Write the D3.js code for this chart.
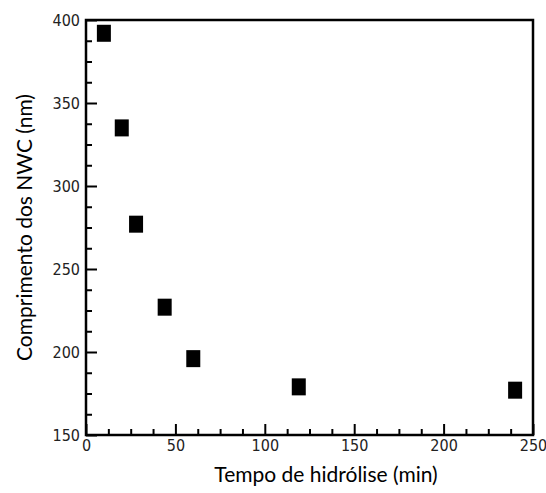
<!DOCTYPE html>
<html>
<head>
<meta charset="utf-8">
<script src="https://cdn.jsdelivr.net/npm/d3@7"></script>
<style>
  body { margin: 0; background: #fff; }
  .tick text { font-family: "Liberation Sans Narrow", "DejaVu Sans Condensed", Arial, sans-serif; font-size: 16px; fill: #222; }
  .axis-title { font-family: Lato, "Open Sans", sans-serif; font-size: 21px; fill: #000; }
</style>
</head>
<body>
<svg id="chart" width="546" height="493"></svg>
<script>
// tempo de hidrólise (min) vs comprimento dos NWC (nm)
var tempo = [10, 20, 28, 44, 60, 119, 240];
var comprimento = [392, 335, 277, 227, 196, 179, 177];
var xTicks = [0, 50, 100, 150, 200, 250];
var yTicks = [150, 200, 250, 300, 350, 400];

var margin = {top: 20, right: 13, bottom: 58, left: 86};
var svg = d3.select('#chart');
var w = 546 - margin.left - margin.right;
var h = 493 - margin.top - margin.bottom;

var x = d3.scaleLinear().domain([0, 250]).range([0, w]);
var y = d3.scaleLinear().domain([150, 400]).range([h, 0]);

var g = svg.append('g').attr('transform', 'translate(' + margin.left + ',' + margin.top + ')');

// minor ticks first (no labels), then the major ones on top
var minorX = d3.range(0, 250.1, 12.5).filter(function(d) { return d % 50 !== 0; });
var minorY = d3.range(150, 400.1, 12.5).filter(function(d) { return d % 50 !== 0; });

g.append('g')
	.attr('transform', 'translate(0,' + h + ')')
	.call(d3.axisBottom(x).tickValues(minorX).tickSize(-6).tickFormat(''))
	.call(function(a) { a.select('.domain').remove(); });
g.append('g')
	.call(d3.axisLeft(y).tickValues(minorY).tickSize(-6).tickFormat(''))
	.call(function(a) { a.select('.domain').remove(); });

g.append('g')
	.attr('transform', 'translate(0,' + h + ')')
	.call(d3.axisBottom(x).tickValues(xTicks).tickSize(-11).tickPadding(5).tickFormat(d3.format('d')))
	.call(function(a) { a.select('.domain').remove(); });
g.append('g')
	.call(d3.axisLeft(y).tickValues(yTicks).tickSize(-11).tickPadding(6).tickFormat(d3.format('d')))
	.call(function(a) { a.select('.domain').remove(); });

g.selectAll('.tick line').attr('stroke', '#000').attr('stroke-width', 2);

// frame
g.append('rect')
	.attr('width', w)
	.attr('height', h)
	.attr('fill', 'none')
	.attr('stroke', '#000')
	.attr('stroke-width', 2.5);

// points
var sw = 14, sh = 17;
g.selectAll('.pt')
	.data(tempo)
	.enter()
	.append('rect')
	.attr('class', 'pt')
	.attr('x', function(d) { return x(d) - sw / 2; })
	.attr('y', function(d, i) { return y(comprimento[i]) - sh / 2; })
	.attr('width', sw)
	.attr('height', sh)
	.attr('fill', '#000');

svg.append('text')
	.attr('class', 'axis-title')
	.attr('x', 326)
	.attr('y', 482)
	.attr('text-anchor', 'middle')
	.text('Tempo de hidrólise (min)');

svg.append('text')
	.attr('class', 'axis-title')
	.attr('transform', 'translate(32,' + (margin.top + h / 2) + ') rotate(-90)')
	.attr('text-anchor', 'middle')
	.text('Comprimento dos NWC (nm)');
</script>
</body>
</html>
